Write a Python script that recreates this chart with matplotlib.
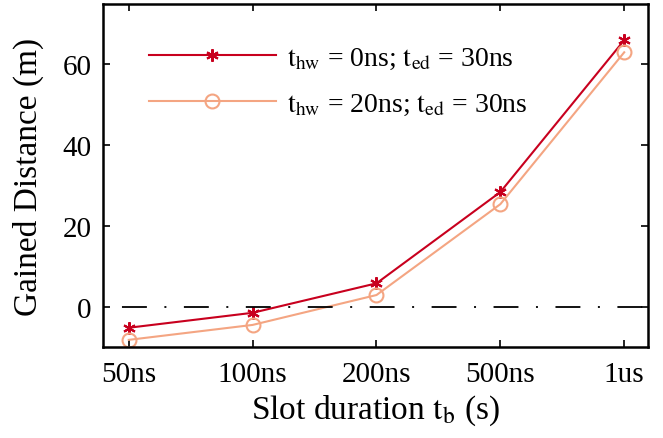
import numpy as np
import matplotlib
matplotlib.use('Agg')
import matplotlib.pyplot as plt

# Data
slot_labels = ['50ns', '100ns', '200ns', '500ns', '1us']
gain_hw0 = [-5.2, -1.5, 5.8, 28.4, 66.0]
gain_hw20 = [-8.2, -4.5, 2.9, 25.4, 63.0]
y_ticks = [0, 20, 40, 60]

plt.rcParams['font.family'] = ['Liberation Serif', 'DejaVu Serif']
plt.rcParams['mathtext.fontset'] = 'stix'

fig = plt.figure(figsize=(6.63, 4.39), dpi=100)
fig.patch.set_facecolor('white')
ax = fig.add_axes([0.155, 0.207, 0.822, 0.782])

x = np.arange(1, len(slot_labels) + 1)
ax.plot(x, gain_hw0, color='#c8001e', lw=1.5, marker=(6, 2, 0), markersize=9,
        markeredgewidth=1.5, label=r'$\mathrm{t_{hw}}$ = 0ns; $\mathrm{t_{ed}}$ = 30ns')
ax.plot(x, gain_hw20, color='#f4a582', lw=1.5, marker='o', markersize=10,
        markerfacecolor='none', markeredgewidth=1.5,
        label=r'$\mathrm{t_{hw}}$ = 20ns; $\mathrm{t_{ed}}$ = 30ns')
# zero reference line, MATLAB-style dash-dot
ax.axhline(0, color='black', lw=1.3, linestyle=(23.8, (13.8, 9.7, 1.1, 9.7)))

ax.set_xlim(0.79, 5.19)
ax.set_ylim(-10, 75)
ax.set_xticks(x)
ax.set_xticklabels(slot_labels)
ax.set_yticks(y_ticks)
ax.tick_params(direction='in', length=5, width=1.2, labelsize=21,
               top=True, right=True)
ax.tick_params(axis='x', pad=10)
ax.tick_params(axis='y', pad=8)
for spine in ax.spines.values():
    spine.set_linewidth(1.8)

ax.set_xlabel(r'Slot duration $\mathrm{t_b}$ (s)', fontsize=24, labelpad=4)
ax.set_ylabel('Gained Distance (m)', fontsize=24, labelpad=13)

ax.legend(loc='upper left', bbox_to_anchor=(0.084, 0.88), frameon=False,
          fontsize=20, handlelength=4.6, handletextpad=0.4, labelspacing=0.75,
          borderaxespad=0.0, borderpad=0.0)

plt.savefig('out.png', dpi=100, facecolor='white')
